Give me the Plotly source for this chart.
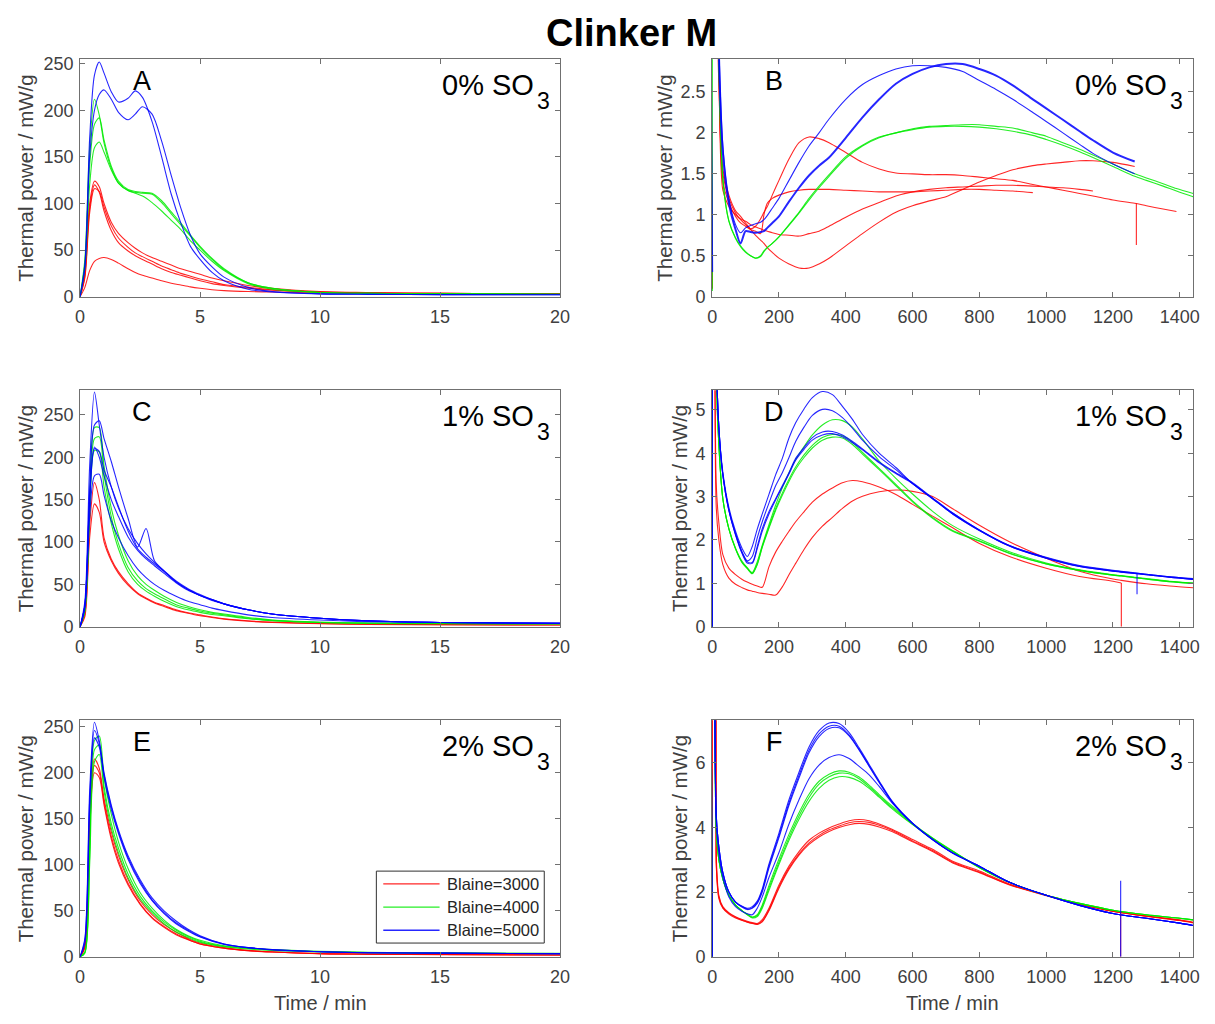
import plotly.graph_objects as go

# ---------------- time grids (min) ----------------
t_A = [0, 0.2, 0.4, 0.6, 0.8, 1.0, 1.3, 1.6, 2.0, 2.3, 2.6, 3.0, 3.4, 3.8, 4.2, 4.6, 5.0, 5.5, 6, 7, 8, 10, 12, 15, 20]
t_C = [0, 0.2, 0.4, 0.6, 0.8, 1.0, 1.3, 1.6, 2.0, 2.4, 2.75, 3.1, 3.5, 4.0, 4.5, 5.0, 5.5, 6, 7, 8, 10, 12, 15, 20]
t_E = [0, 0.2, 0.4, 0.6, 0.8, 1.0, 1.3, 1.6, 2.0, 2.5, 3.0, 3.5, 4.0, 4.5, 5.0, 6, 7, 8, 10, 12, 15, 20]
t_B = [0, 1, 10, 20, 32, 50, 70, 85, 100, 115, 130, 145, 155, 165, 180, 200, 230, 260, 290, 320, 350, 400,
       450, 500, 550, 600, 650, 700, 750, 800, 850, 900, 960, 1000, 1050, 1100, 1140, 1200, 1265, 1300, 1350,
       1390, 1440]
t_D = [0, 1, 12, 20, 32, 50, 70, 90, 105, 120, 135, 150, 170, 190, 210, 230, 250, 275, 300, 330, 360, 390,
       420, 450, 500, 550, 600, 660, 720, 800, 890, 1000, 1100, 1200, 1225, 1300, 1370, 1440]
t_F = [0, 1, 12, 20, 32, 50, 70, 90, 105, 120, 135, 150, 170, 200, 230, 260, 290, 320, 350, 380, 410, 440,
       470, 500, 540, 600, 660, 720, 800, 890, 1000, 1100, 1200, 1300, 1400, 1440]

# ---------------- thermal power (mW/g), 0 % SO3, first 20 min ----------------
A_red = [
    [0, 25, 100, 124, 118, 100, 80, 68, 58, 52, 47, 42, 38, 34, 30, 27, 24, 20, 17, 12, 9, 5.5, 4.5, 3.5, 3],
    [0, 22, 95, 120, 112, 92, 71, 58, 49, 44, 40, 35, 30, 26, 23, 20, 17, 14, 12, 9, 7, 5, 4, 3.5, 3],
    [0, 20, 90, 116, 113, 96, 76, 63, 53, 47, 43, 38, 33, 29, 25, 22, 19, 16, 13, 10, 7.5, 5, 4, 3.5, 3],
    [0, 10, 28, 38, 41, 42, 40, 36, 30, 26, 23, 20, 17, 14.5, 12.5, 10.5, 9, 7.5, 6.5, 5.5, 5, 4, 3.5, 3, 2.5],
]
A_green = [
    [0, 40, 160, 212, 195, 165, 138, 122, 114, 112, 111, 110, 101, 89, 77, 65, 53, 40, 29, 15, 9, 4.5, 3.5, 3, 2.5],
    [0, 35, 140, 185, 192, 168, 140, 124, 115, 113, 112, 111, 103, 91, 79, 66, 54, 41, 30, 15, 9, 4.5, 3.5, 3, 2.5],
    [0, 30, 120, 160, 166, 155, 136, 122, 114, 111, 108, 101, 92, 82, 72, 60, 50, 38, 28, 14, 8, 4.5, 3.5, 3, 2.5],
]
A_blue = [
    [0, 35, 170, 238, 252, 240, 220, 209, 213, 221, 214, 188, 150, 110, 79, 54, 40, 26, 17, 8, 5, 3, 2.5, 2.2, 2],
    [0, 30, 150, 200, 217, 222, 212, 198, 190, 196, 204, 196, 167, 130, 95, 66, 46, 32, 21, 10, 5.5, 3, 2.5, 2.2, 2],
]

# ---------------- 1 % SO3, first 20 min ----------------
C_red = [
    [0, 15, 120, 170, 150, 105, 80, 65, 51, 40, 34, 29, 25, 20, 16.5, 14, 11.5, 9.5, 7, 5.5, 4, 3, 2.5, 2],
    [0, 12, 105, 145, 135, 100, 78, 63, 49, 39, 33, 28, 24, 19, 16, 13, 11, 9, 6.5, 5, 3.5, 2.8, 2.3, 2],
]
C_green = [
    [0, 20, 150, 235, 235, 190, 140, 108, 78, 60, 50, 43, 36, 29, 24, 20, 17, 15, 11, 8, 5.5, 4.5, 4, 3.5],
    [0, 20, 140, 222, 224, 180, 130, 98, 70, 54, 45, 39, 33, 26, 22, 18.5, 16, 14, 10, 7.5, 5, 4.2, 3.8, 3.5],
    [0, 18, 130, 208, 206, 165, 122, 92, 65, 50, 42, 36, 30, 24, 20, 17, 14.5, 13, 9.5, 7, 5, 4, 3.6, 3.3],
]
C_blue = [
    [0, 30, 190, 277, 238, 200, 165, 140, 116, 98, 86, 76, 66, 54, 45, 38, 32, 27, 20, 15, 10, 7, 5, 4],
    [0, 25, 160, 238, 243, 222, 195, 165, 128, 94, 116, 78, 66, 53, 44, 37, 32, 27, 20, 15, 10, 7, 5, 4],
    [0, 25, 150, 210, 207, 185, 165, 142, 113, 92, 82, 74, 65, 53, 44, 37, 32, 27, 20, 15, 10, 7, 5, 4],
    [0, 25, 150, 212, 200, 178, 150, 130, 106, 90, 80, 72, 63, 52, 43, 37, 31, 27, 20, 15, 10, 7, 5, 4],
    [0, 22, 130, 178, 180, 155, 125, 105, 84, 68, 58, 50, 43, 36, 30, 26, 22, 19, 14, 11, 8, 6, 5, 4],
]

# ---------------- 2 % SO3, first 20 min ----------------
E_red = [
    [0, 12, 150, 215, 205, 172, 136, 110, 84, 61, 46, 35, 27, 20, 15, 10, 7, 5.5, 3.5, 3, 2.5, 2],
    [0, 10, 140, 208, 200, 168, 131, 105, 80, 58, 43, 33, 25, 19, 14, 9.5, 6.8, 5.3, 3.5, 3, 2.5, 2],
    [0, 10, 135, 200, 195, 165, 128, 102, 78, 57, 42, 32, 24, 18.5, 14, 9.3, 6.6, 5.2, 3.4, 2.9, 2.4, 2],
]
E_green = [
    [0, 5, 120, 235, 240, 195, 155, 125, 96, 70, 53, 40, 30, 23, 18, 12, 9.5, 8, 6, 5, 4.2, 3.8],
    [0, 5, 110, 225, 230, 185, 145, 118, 90, 66, 50, 38, 29, 22, 17, 11.5, 9, 7.5, 5.5, 4.8, 4, 3.6],
    [0, 4, 100, 212, 220, 180, 140, 113, 86, 63, 48, 36, 27, 21, 16, 11, 8.5, 7, 5.5, 4.5, 4, 3.5],
]
E_blue = [
    [0, 20, 180, 255, 235, 200, 165, 138, 110, 84, 64, 50, 39, 30, 23, 14, 10, 8, 5.5, 4.5, 4, 3.5],
    [0, 18, 170, 246, 232, 198, 163, 136, 108, 82, 62, 48, 37, 29, 22, 14, 10, 8, 5.5, 4.5, 4, 3.5],
    [0, 15, 160, 238, 228, 195, 160, 134, 106, 80, 61, 47, 36, 28, 21.5, 13.5, 10, 7.5, 5.5, 4.5, 4, 3.5],
]

# ---------------- 0 % SO3, 24 h ----------------
B_red = [
    [0.1, 120, 5, 2.6, 1.5, 1.2, 1.02, 0.94, 0.88, 0.83, 0.86, 0.95, 1.03, 1.1, 1.24, 1.42, 1.68, 1.88, 1.95, 1.93,
     1.88, 1.76, 1.64, 1.56, 1.51, 1.5, 1.49, 1.49, 1.48, 1.46, 1.44, 1.42, 1.37, 1.34, 1.3, 1.26, 1.23, 1.18, 1.14,
     1.11, 1.07, 1.04, None],
    [0.1, 110, 5, 2.8, 1.4, 1.15, 0.98, 0.9, 0.86, 0.82, 0.8, 0.77, 1.0, 1.14, 1.2, 1.24, 1.28, 1.3, 1.31, 1.31,
     1.31, 1.3, 1.29, 1.28, 1.28, 1.28, 1.29, 1.3, 1.31, 1.31, 1.3, 1.29, 1.27,
     None, None, None, None, None, None, None, None, None, None],
    [0.1, 100, 5, 2.9, 1.3, 1.1, 1.0, 0.95, 0.92, 0.88, 0.85, 0.83, 0.81, 0.8, 0.78, 0.76, 0.75, 0.74, 0.77, 0.8,
     0.86, 0.97, 1.07, 1.15, 1.23, 1.28, 1.31, 1.33, 1.34, 1.35, 1.36, 1.36, 1.35, 1.34, 1.33, 1.31, 1.29,
     None, None, None, None, None, None],
    [0.1, 90, 5, 3.0, 1.56, 1.24, 1.05, 0.98, 0.9, 0.82, 0.75, 0.69, 0.65, 0.6, 0.54, 0.47, 0.4, 0.35, 0.35, 0.4,
     0.47, 0.62, 0.77, 0.91, 1.03, 1.11, 1.17, 1.22, 1.31, 1.4, 1.48, 1.55, 1.6, 1.62, 1.64, 1.66, 1.66, 1.64, 1.59,
     None, None, None, None],
]
B_green = [
    [0.07, 200, 6, 2.9, 1.45, 0.93, 0.72, 0.62, 0.55, 0.5, 0.47, 0.49, 0.55, 0.6, 0.65, 0.73, 0.88, 1.03, 1.2, 1.35,
     1.49, 1.71, 1.85, 1.95, 2.0, 2.05, 2.08, 2.09, 2.1, 2.1, 2.08, 2.06, 2.0, 1.96, 1.88, 1.8, 1.73, 1.62, 1.5,
     1.45, 1.38, 1.32, 1.26],
    [0.07, 200, 6, 2.85, 1.42, 0.92, 0.71, 0.61, 0.54, 0.5, 0.47, 0.5, 0.56, 0.6, 0.65, 0.73, 0.87, 1.02, 1.18, 1.33,
     1.47, 1.69, 1.84, 1.94, 2.0, 2.04, 2.07, 2.08, 2.08, 2.07, 2.05, 2.02, 1.97, 1.92, 1.85, 1.77, 1.7, 1.59, 1.47,
     1.42, 1.35, 1.29, 1.22],
]
B_blue = [
    [0.3, 200, 6, 3.0, 1.76, 1.14, 0.82, 0.65, 0.8, 0.79, 0.78, 0.79, 0.8, 0.84, 0.9, 0.98, 1.16, 1.33, 1.48, 1.6,
     1.7, 1.94, 2.19, 2.41, 2.6, 2.72, 2.8, 2.84, 2.84, 2.78, 2.7, 2.58, 2.41, 2.3, 2.16, 2.02, 1.91, 1.76, 1.65,
     None, None, None, None],
    [0.3, 200, 6, 3.1, 1.85, 1.2, 0.88, 0.78, 0.84, 0.87, 0.89, 0.91, 0.94, 0.99, 1.08, 1.2, 1.42, 1.64, 1.84, 2.0,
     2.17, 2.41, 2.59, 2.7, 2.78, 2.82, 2.82, 2.8, 2.75, 2.64, 2.53, 2.41, 2.25, 2.14, 2.0, 1.86, 1.75, 1.62, 1.5,
     None, None, None, None],
]
B_red_spike_t = [1270, 1270]
B_red_spike_p = [1.14, 0.63]

# ---------------- 1 % SO3, 24 h ----------------
D_red = [
    [0, 150, 3.33, 2.4, 1.66, 1.35, 1.2, 1.09, 1.03, 0.98, 0.94, 0.91, 1.38, 1.72, 1.97, 2.2, 2.42, 2.65, 2.87, 3.06,
     3.2, 3.32, 3.37, 3.34, 3.22, 3.05, 2.82, 2.55, 2.28, 1.92, 1.62, 1.35, 1.16, 1.05, 1.01, None, None, None],
    [0, 150, 2.8, 2.0, 1.43, 1.12, 0.98, 0.9, 0.85, 0.82, 0.79, 0.77, 0.75, 0.73, 0.92, 1.2, 1.46, 1.78, 2.06, 2.32,
     2.52, 2.73, 2.9, 3.01, 3.11, 3.15, 3.12, 3.0, 2.72, 2.34, 1.96, 1.58, 1.28, 1.1, 1.07, 0.99, 0.94, 0.9],
]
D_green = [
    [0, 200, 6, 4.2, 2.95, 2.26, 1.81, 1.5, 1.36, 1.25, 1.5, 1.88, 2.35, 2.8, 3.2, 3.55, 3.85, 4.15, 4.42, 4.65,
     4.77, 4.75, 4.6, 4.33, 3.82, 3.42, 3.06, 2.66, 2.33, 2.02, 1.73, 1.47, 1.31, 1.2, 1.18, 1.11, 1.05, 1.01],
    [0, 200, 6, 4.2, 2.95, 2.26, 1.8, 1.48, 1.35, 1.23, 1.45, 1.85, 2.3, 2.72, 3.08, 3.4, 3.68, 3.96, 4.18, 4.36,
     4.43, 4.4, 4.25, 4.02, 3.65, 3.28, 2.9, 2.52, 2.22, 1.98, 1.7, 1.45, 1.3, 1.19, 1.17, 1.1, 1.04, 1.0],
    [0, 200, 6, 4.2, 2.95, 2.25, 1.79, 1.47, 1.34, 1.22, 1.43, 1.83, 2.27, 2.68, 3.03, 3.35, 3.63, 3.9, 4.12, 4.3,
     4.37, 4.35, 4.2, 3.98, 3.62, 3.25, 2.88, 2.5, 2.2, 1.97, 1.69, 1.45, 1.3, 1.19, 1.17, 1.1, 1.04, 1.0],
]
D_blue = [
    [0, 200, 6.5, 4.6, 3.56, 2.75, 2.2, 1.8, 1.62, 1.85, 2.25, 2.6, 3.05, 3.5, 3.88, 4.35, 4.7, 5.02, 5.28, 5.42,
     5.35, 5.08, 4.78, 4.43, 4.0, 3.67, 3.3, 2.95, 2.6, 2.22, 1.86, 1.58, 1.39, 1.28, 1.26, 1.2, 1.14, 1.09],
    [0, 200, 6.5, 4.6, 3.5, 2.7, 2.15, 1.72, 1.52, 1.62, 2.05, 2.42, 2.85, 3.25, 3.55, 3.9, 4.27, 4.6, 4.87, 5.01,
     4.98, 4.82, 4.58, 4.3, 3.92, 3.62, 3.3, 2.95, 2.6, 2.22, 1.86, 1.58, 1.39, 1.28, 1.26, 1.2, 1.14, 1.09],
    [0, 200, 6.5, 4.6, 3.5, 2.68, 2.12, 1.7, 1.5, 1.48, 1.85, 2.26, 2.65, 2.95, 3.25, 3.55, 3.88, 4.13, 4.36, 4.49,
     4.5, 4.42, 4.27, 4.1, 3.8, 3.55, 3.32, 2.97, 2.62, 2.23, 1.87, 1.59, 1.4, 1.29, 1.27, 1.21, 1.15, 1.1],
    [0, 200, 6.5, 4.6, 3.5, 2.68, 2.12, 1.68, 1.47, 1.46, 1.8, 2.2, 2.6, 2.92, 3.22, 3.52, 3.84, 4.09, 4.3, 4.42,
     4.45, 4.38, 4.24, 4.08, 3.78, 3.53, 3.3, 2.96, 2.62, 2.23, 1.87, 1.6, 1.41, 1.3, 1.28, 1.21, 1.15, 1.11],
]
D_red_spike_t = [1225, 1225]
D_red_spike_p = [1.01, 0]
D_blue_spike_t = [1272, 1272]
D_blue_spike_p = [1.22, 0.75]

# ---------------- 2 % SO3, 24 h ----------------
F_red = [
    [0, 150, 3.2, 1.9, 1.55, 1.36, 1.24, 1.15, 1.1, 1.06, 1.03, 1.15, 1.5, 2.22, 2.8, 3.25, 3.6, 3.82, 3.98, 4.1,
     4.2, 4.24, 4.2, 4.1, 3.93, 3.62, 3.32, 2.95, 2.65, 2.25, 1.9, 1.63, 1.41, 1.26, 1.14, 1.07],
    [0, 150, 3.0, 1.85, 1.52, 1.34, 1.22, 1.13, 1.08, 1.04, 1.01, 1.1, 1.45, 2.16, 2.74, 3.18, 3.52, 3.75, 3.92, 4.04,
     4.14, 4.18, 4.15, 4.06, 3.9, 3.58, 3.28, 2.92, 2.62, 2.23, 1.9, 1.63, 1.41, 1.26, 1.13, 1.06],
    [0, 150, 2.9, 1.8, 1.5, 1.32, 1.2, 1.12, 1.07, 1.03, 1.0, 1.08, 1.42, 2.12, 2.7, 3.14, 3.47, 3.7, 3.87, 3.99,
     4.08, 4.12, 4.09, 4.01, 3.86, 3.55, 3.25, 2.9, 2.6, 2.22, 1.89, 1.62, 1.4, 1.25, 1.12, 1.05],
]
F_green = [
    [0, 200, 4.0, 3.0, 2.4, 1.9, 1.6, 1.42, 1.32, 1.23, 1.3, 1.6, 2.2, 3.02, 3.78, 4.45, 5.02, 5.42, 5.64, 5.74,
     5.7, 5.55, 5.3, 5.01, 4.64, 4.12, 3.67, 3.27, 2.76, 2.3, 1.9, 1.65, 1.44, 1.3, 1.19, 1.14],
    [0, 200, 4.0, 3.0, 2.4, 1.9, 1.6, 1.42, 1.31, 1.22, 1.27, 1.55, 2.12, 2.92, 3.68, 4.35, 4.92, 5.33, 5.56, 5.67,
     5.65, 5.5, 5.25, 4.97, 4.6, 4.1, 3.66, 3.26, 2.76, 2.3, 1.9, 1.65, 1.44, 1.3, 1.19, 1.14],
    [0, 200, 4.0, 3.0, 2.4, 1.9, 1.6, 1.42, 1.3, 1.2, 1.24, 1.5, 2.05, 2.85, 3.6, 4.25, 4.8, 5.2, 5.45, 5.56,
     5.54, 5.42, 5.2, 4.93, 4.56, 4.08, 3.64, 3.25, 2.75, 2.3, 1.9, 1.65, 1.44, 1.3, 1.19, 1.14],
]
F_blue = [
    [0, 200, 4.4, 3.4, 2.6, 2.0, 1.69, 1.55, 1.48, 1.52, 1.68, 2.05, 2.8, 3.74, 4.75, 5.6, 6.38, 6.88, 7.12, 7.12,
     6.85, 6.4, 5.9, 5.4, 4.77, 4.12, 3.62, 3.21, 2.8, 2.3, 1.9, 1.59, 1.34, 1.19, 1.04, 0.97],
    [0, 200, 4.4, 3.4, 2.6, 2.0, 1.7, 1.56, 1.5, 1.55, 1.72, 2.1, 2.86, 3.82, 4.85, 5.7, 6.48, 6.98, 7.22, 7.2,
     6.92, 6.45, 5.94, 5.43, 4.79, 4.13, 3.63, 3.21, 2.8, 2.3, 1.9, 1.59, 1.34, 1.19, 1.04, 0.97],
    [0, 200, 4.4, 3.4, 2.6, 2.0, 1.68, 1.53, 1.46, 1.5, 1.65, 2.0, 2.74, 3.68, 4.68, 5.52, 6.3, 6.8, 7.05, 7.07,
     6.82, 6.38, 5.88, 5.38, 4.76, 4.11, 3.61, 3.2, 2.79, 2.3, 1.9, 1.59, 1.34, 1.19, 1.04, 0.97],
    [0, 200, 4.2, 3.2, 2.45, 1.85, 1.55, 1.4, 1.33, 1.3, 1.5, 1.85, 2.45, 3.22, 4.1, 4.85, 5.5, 5.92, 6.15, 6.24,
     6.12, 5.88, 5.62, 5.26, 4.74, 4.12, 3.62, 3.21, 2.8, 2.3, 1.9, 1.59, 1.34, 1.19, 1.04, 0.97],
]
F_red_spike_t = [1223, 1223]
F_red_spike_p = [0, 1.38]
F_blue_spike_t = [1223, 1223]
F_blue_spike_p = [0, 2.35]

legend_labels = ["Blaine=3000", "Blaine=4000", "Blaine=5000"]
so3_labels = ["0% SO", "0% SO", "1% SO", "1% SO", "2% SO", "2% SO"]
panel_letters = ["A", "B", "C", "D", "E", "F"]

# ---------------- styling / geometry (pixel positions on a 1215x1024 page) ----------------
W, H = 1215, 1024
RED = "rgba(255,0,0,0.85)"
GREEN = "rgba(0,235,0,0.85)"
BLUE = "rgba(0,0,255,0.85)"
FONT = "Liberation Sans, Arial, Helvetica, sans-serif"
AXIS_COLOR = "#707070"
TEXT_COLOR = "#404040"

COLS = [(76, 562), (716, 1203)]
ROWS = [(55, 296), (391, 631), (726, 966)]


def px(x):
    return x / W


def py(y):
    return 1 - y / H


fig = go.Figure()


def add_group(axis_idx, t, groups, width=1.1):
    xa = "x" if axis_idx == 1 else f"x{axis_idx}"
    ya = "y" if axis_idx == 1 else f"y{axis_idx}"
    for color, series in groups:
        for vals in series:
            fig.add_trace(go.Scatter(
                x=t, y=vals, mode="lines", xaxis=xa, yaxis=ya, showlegend=False,
                hoverinfo="skip", connectgaps=False,
                line=dict(color=color, width=width, shape="spline", smoothing=0.8)))


def add_spike(axis_idx, t, p, color):
    xa = "x" if axis_idx == 1 else f"x{axis_idx}"
    ya = "y" if axis_idx == 1 else f"y{axis_idx}"
    fig.add_trace(go.Scatter(x=t, y=p, mode="lines", xaxis=xa, yaxis=ya, showlegend=False,
                             hoverinfo="skip", line=dict(color=color, width=1.1)))


add_group(1, t_A, [(RED, A_red), (GREEN, A_green), (BLUE, A_blue)])
add_group(2, t_B, [(RED, B_red), (GREEN, B_green)])
add_group(2, t_B, [(BLUE, B_blue[:1])], width=2.0)
add_group(2, t_B, [(BLUE, B_blue[1:])])
add_spike(2, B_red_spike_t, B_red_spike_p, RED)
add_group(3, t_C, [(RED, C_red), (GREEN, C_green), (BLUE, C_blue)])
add_group(4, t_D, [(RED, D_red), (GREEN, D_green), (BLUE, D_blue)])
add_spike(4, D_red_spike_t, D_red_spike_p, RED)
add_spike(4, D_blue_spike_t, D_blue_spike_p, BLUE)
add_group(5, t_E, [(RED, E_red), (GREEN, E_green), (BLUE, E_blue)])
add_group(6, t_F, [(RED, F_red), (GREEN, F_green), (BLUE, F_blue)])
add_spike(6, F_red_spike_t, F_red_spike_p, RED)
add_spike(6, F_blue_spike_t, F_blue_spike_p, BLUE)

axis_common = dict(
    showline=True, linecolor=AXIS_COLOR, linewidth=1, mirror="ticks",
    ticks="inside", ticklen=5, tickcolor=AXIS_COLOR, tickwidth=1,
    showgrid=False, zeroline=False, fixedrange=True,
    tickfont=dict(family=FONT, size=18, color=TEXT_COLOR),
)

y_specs = [
    ([0, 255], [0, 50, 100, 150, 200, 250], None),
    ([0, 2.9], [0, 0.5, 1, 1.5, 2, 2.5], ["0", "0.5", "1", "1.5", "2", "2.5"]),
    ([0, 279], [0, 50, 100, 150, 200, 250], None),
    ([0, 5.45], [0, 1, 2, 3, 4, 5], None),
    ([0, 257], [0, 50, 100, 150, 200, 250], None),
    ([0, 7.3], [0, 2, 4, 6], None),
]

layout_axes = {}
for i in range(6):
    row, col = divmod(i, 2)
    x0, x1 = COLS[col]
    top, bot = ROWS[row]
    suffix = "" if i == 0 else str(i + 1)
    if col == 0:
        xr, xt = [0, 20], [0, 5, 10, 15, 20]
    else:
        xr, xt = [0, 1440], [0, 200, 400, 600, 800, 1000, 1200, 1400]
    layout_axes[f"xaxis{suffix}"] = dict(
        axis_common, domain=[px(x0), px(x1)], range=xr, tickvals=xt,
        anchor=f"y{suffix}", ticklabelstandoff=4)
    yr, yt, ytt = y_specs[i]
    ydict = dict(axis_common, domain=[py(bot), py(top)], range=yr, tickvals=yt,
                 anchor=f"x{suffix}", ticklabelstandoff=2)
    if ytt is not None:
        ydict["ticktext"] = ytt
    layout_axes[f"yaxis{suffix}"] = ydict

annotations = []
# figure title
annotations.append(dict(text="<b>Clinker M</b>", x=px(634), y=py(28), xref="paper", yref="paper",
                        showarrow=False, font=dict(family=FONT, size=38, color="black"),
                        xanchor="center", yanchor="middle"))
ytitle_x = [21, 668, 21, 683, 21, 683]
for i in range(6):
    row, col = divmod(i, 2)
    x0, x1 = COLS[col]
    top, bot = ROWS[row]
    # panel letter
    annotations.append(dict(text=panel_letters[i], x=px(x0 + 63), y=py(top + 22), xref="paper", yref="paper",
                            showarrow=False, font=dict(family=FONT, size=27, color="black"),
                            xanchor="center", yanchor="middle"))
    # SO3 content label
    annotations.append(dict(text=so3_labels[i], x=px(x1 - 24), y=py(top + 26), xref="paper", yref="paper",
                            showarrow=False, font=dict(family=FONT, size=29, color="black"),
                            xanchor="right", yanchor="middle"))
    annotations.append(dict(text="3", x=px(x1 - 25), y=py(top + 42), xref="paper", yref="paper",
                            showarrow=False, font=dict(family=FONT, size=23, color="black"),
                            xanchor="left", yanchor="middle"))
    # y-axis title
    annotations.append(dict(text="Thermal power / mW/g", x=px(ytitle_x[i]), y=py((top + bot) / 2),
                            xref="paper", yref="paper", showarrow=False, textangle=-90,
                            font=dict(family=FONT, size=20.5, color=TEXT_COLOR),
                            xanchor="center", yanchor="middle"))
    if row == 2:
        annotations.append(dict(text="Time / min", x=px((x0 + x1) / 2), y=py(1013), xref="paper", yref="paper",
                                showarrow=False, font=dict(family=FONT, size=20, color=TEXT_COLOR),
                                xanchor="center", yanchor="middle"))

# legend box inside panel E
shapes = [dict(type="rect", xref="paper", yref="paper", x0=px(376), x1=px(546), y0=py(952), y1=py(879),
               line=dict(color="#303030", width=1), fillcolor="white", layer="above")]
for k, (lab, col) in enumerate(zip(legend_labels, [RED, GREEN, BLUE])):
    yy = 892 + k * 23.5
    shapes.append(dict(type="line", xref="paper", yref="paper", x0=px(383), x1=px(440), y0=py(yy), y1=py(yy),
                       line=dict(color=col, width=1.3), layer="above"))
    annotations.append(dict(text=lab, x=px(445), y=py(yy), xref="paper", yref="paper", showarrow=False,
                            font=dict(family=FONT, size=16.5, color="#262626"),
                            xanchor="left", yanchor="middle"))

fig.update_layout(
    width=W, height=H, margin=dict(l=0, r=0, t=0, b=0),
    paper_bgcolor="white", plot_bgcolor="white",
    annotations=annotations, shapes=shapes, showlegend=False,
    **layout_axes,
)

fig.write_html("out.html")
